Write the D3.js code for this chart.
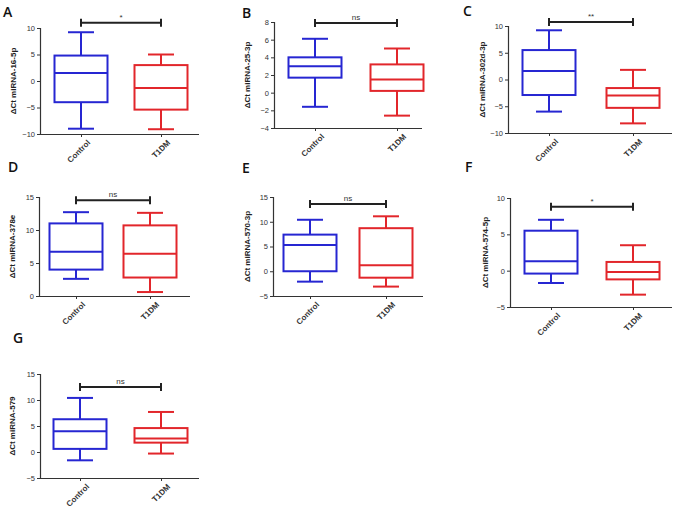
<!DOCTYPE html>
<html>
<head>
<meta charset="utf-8">
<script src="https://cdn.jsdelivr.net/npm/d3@7"></script>
<style>
body { margin:0; background:#fff; }
svg { display:block; font-family:"Liberation Sans", Arial, sans-serif; }
.tick text { font-size:7.5px; fill:#333; }
</style>
</head>
<body>
<svg id="chart" width="675" height="509"></svg>
<script>
// data: [min, Q1, median, Q3, max]
var groups = ["Control", "T1DM"];
var panelLetters = ["A", "B", "C", "D", "E", "F", "G"];
var yLabels = ["\u0394Ct miRNA-16-5p", "\u0394Ct miRNA-25-3p", "\u0394Ct miRNA-302d-3p",
               "\u0394Ct miRNA-378e", "\u0394Ct miRNA-570-3p", "\u0394Ct miRNA-574-5p", "\u0394Ct miRNA-579"];
var controlStats = [
	[-9, -4, 1.5, 4.8, 9.2],
	[-1.6, 1.7, 3, 4, 6.1],
	[-6, -2.9, 1.6, 5.5, 9.2],
	[2.6, 4, 6.7, 11, 12.7],
	[-2.1, 0, 5.3, 7.4, 10.4],
	[-1.7, -0.4, 1.3, 5.5, 7],
	[-1.6, 0.6, 4, 6.3, 10.4]
];
var t1dmStats = [
	[-9.1, -5.4, -1.3, 3, 5],
	[-2.6, 0.2, 1.5, 3.2, 5],
	[-8.2, -5.3, -3, -1.6, 1.8],
	[0.6, 2.8, 6.4, 10.7, 12.6],
	[-3.1, -1.3, 1.2, 8.7, 11.1],
	[-3.3, -1.2, -0.2, 1.2, 3.5],
	[-0.3, 1.8, 2.6, 4.6, 7.7]
];
var sigLabels = ["*", "ns", "**", "ns", "ns", "*", "ns"];
var sigLevels = [11, 7.9, 10.75, 14.5, 13.6, 8.8, 12.5];
var yDomains = [[-10, 10], [-4, 8], [-10, 10], [0, 15], [-5, 15], [-5, 10], [-5, 15]];
var yTicks = [
	[-10, -5, 0, 5, 10],
	[-4, -2, 0, 2, 4, 6, 8],
	[-10, -5, 0, 5, 10],
	[0, 5, 10, 15],
	[-5, 0, 5, 10, 15],
	[-5, 0, 5, 10],
	[-5, 0, 5, 10, 15]
];

// panel placement in the page
var layout = [
	{x0:40,  x1:199, c0:81,  c1:161, top:28,  bottom:134, lx:3,   ly:17,  yl:13},
	{x0:274, x1:422, c0:315, c1:397, top:22,  bottom:128, lx:242, ly:18,  yl:247},
	{x0:508, x1:672, c0:549, c1:633, top:26,  bottom:133, lx:463, ly:16,  yl:482},
	{x0:39,  x1:190, c0:76,  c1:150, top:197, bottom:296, lx:8,   ly:172, yl:12},
	{x0:273, x1:423, c0:310, c1:386, top:197, bottom:296, lx:242, ly:173, yl:247},
	{x0:510, x1:672, c0:551, c1:633, top:198, bottom:307, lx:465, ly:172, yl:485},
	{x0:40,  x1:199, c0:80,  c1:161, top:374, bottom:478, lx:13,  ly:343, yl:12}
];

var colors = {"Control":"#2626d2", "T1DM":"#e2262b"};
var boxW = 53, capW = 26;

var svg = d3.select("#chart");

panelLetters.forEach(function(letter, i){
	var L = layout[i];
	var g = svg.append("g").attr("class", "panel");

	var x = d3.scalePoint().domain(groups).range([L.c0, L.c1]);
	var y = d3.scaleLinear().domain(yDomains[i]).range([L.bottom, L.top]);

	// y axis
	var ya = g.append("g")
		.attr("transform", "translate(" + L.x0 + ",0)")
		.call(d3.axisLeft(y).tickValues(yTicks[i]).tickSize(3).tickPadding(2));
	ya.select(".domain").attr("stroke", "#333").attr("stroke-width", 1.2);
	ya.selectAll(".tick line").attr("stroke", "#333");

	// x axis
	var xa = g.append("g")
		.attr("transform", "translate(0," + L.bottom + ")")
		.call(d3.axisBottom(x).tickSize(3).tickSizeOuter(0));
	xa.select(".domain").attr("d", "M" + L.x0 + ",0.5H" + L.x1)
		.attr("stroke", "#333").attr("stroke-width", 1.2);
	xa.selectAll(".tick line").attr("stroke", "#333");
	xa.selectAll(".tick text")
		.attr("text-anchor", "end")
		.attr("transform", "translate(3,3) rotate(-45)")
		.attr("dy", "0.35em")
		.style("font-size", "8px")
		.style("font-weight", "bold")
		.style("fill", "#333");

	// boxes
	var rows = [
		{group:"Control", s:controlStats[i]},
		{group:"T1DM", s:t1dmStats[i]}
	];
	var bx = g.selectAll("g.box").data(rows).enter().append("g").attr("class", "box")
		.attr("stroke", function(d){ return colors[d.group]; })
		.attr("stroke-width", 2)
		.attr("fill", "none");

	bx.append("line")
		.attr("x1", function(d){ return x(d.group); })
		.attr("x2", function(d){ return x(d.group); })
		.attr("y1", function(d){ return y(d.s[4]); })
		.attr("y2", function(d){ return y(d.s[3]); });
	bx.append("line")
		.attr("x1", function(d){ return x(d.group); })
		.attr("x2", function(d){ return x(d.group); })
		.attr("y1", function(d){ return y(d.s[1]); })
		.attr("y2", function(d){ return y(d.s[0]); });
	bx.append("line")
		.attr("x1", function(d){ return x(d.group) - capW/2; })
		.attr("x2", function(d){ return x(d.group) + capW/2; })
		.attr("y1", function(d){ return y(d.s[4]); })
		.attr("y2", function(d){ return y(d.s[4]); });
	bx.append("line")
		.attr("x1", function(d){ return x(d.group) - capW/2; })
		.attr("x2", function(d){ return x(d.group) + capW/2; })
		.attr("y1", function(d){ return y(d.s[0]); })
		.attr("y2", function(d){ return y(d.s[0]); });
	bx.append("rect")
		.attr("x", function(d){ return x(d.group) - boxW/2; })
		.attr("width", boxW)
		.attr("y", function(d){ return y(d.s[3]); })
		.attr("height", function(d){ return y(d.s[1]) - y(d.s[3]); });
	bx.append("line")
		.attr("x1", function(d){ return x(d.group) - boxW/2; })
		.attr("x2", function(d){ return x(d.group) + boxW/2; })
		.attr("y1", function(d){ return y(d.s[2]); })
		.attr("y2", function(d){ return y(d.s[2]); });

	// significance bar
	var sy = y(sigLevels[i]);
	var sig = g.append("g").attr("stroke", "#222").attr("stroke-width", 2);
	sig.append("line").attr("x1", x(groups[0])).attr("x2", x(groups[1])).attr("y1", sy).attr("y2", sy);
	sig.append("line").attr("x1", x(groups[0])).attr("x2", x(groups[0])).attr("y1", sy - 4).attr("y2", sy + 4);
	sig.append("line").attr("x1", x(groups[1])).attr("x2", x(groups[1])).attr("y1", sy - 4).attr("y2", sy + 4);
	g.append("text")
		.attr("x", (x(groups[0]) + x(groups[1])) / 2)
		.attr("y", sy - 3)
		.attr("text-anchor", "middle")
		.style("font-size", "8px")
		.style("fill", "#333")
		.text(sigLabels[i]);

	// y label
	g.append("text")
		.attr("transform", "translate(" + L.yl + "," + ((L.top + L.bottom) / 2) + ") rotate(-90)")
		.attr("text-anchor", "middle")
		.attr("dy", "0.35em")
		.style("font-size", "8px")
		.style("font-weight", "bold")
		.style("fill", "#222")
		.text(yLabels[i]);

	// panel letter
	g.append("text")
		.attr("x", L.lx)
		.attr("y", L.ly)
		.style("font-family", "'Open Sans', sans-serif")
		.style("font-size", "14px")
		.style("font-weight", "600")
		.style("fill", "#111")
		.text(letter);
});
</script>
</body>
</html>
